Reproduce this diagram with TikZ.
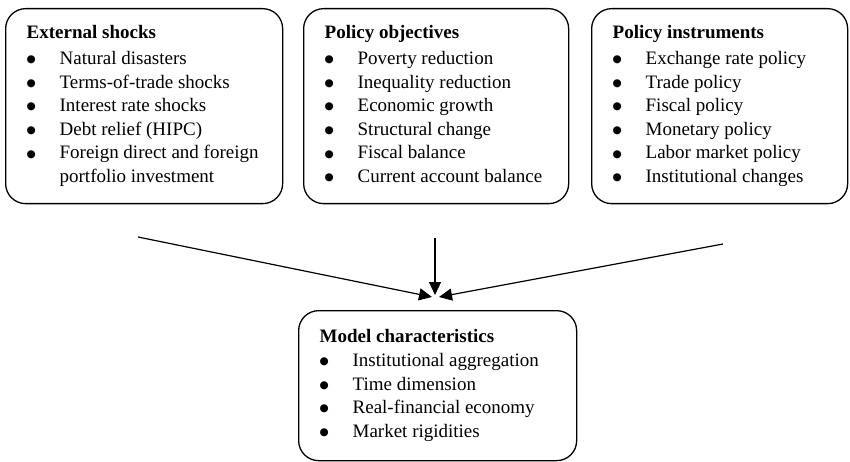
\documentclass[tikz,border=0pt]{standalone}
\usepackage{fontspec}
\setmainfont{Liberation Serif}
\newfontfamily\symf{DejaVu Sans}
\usetikzlibrary{arrows.meta}
\newcommand{\bul}{\raisebox{1.8pt}{\fontsize{10.5}{10.5}\symf ●}}
\newcommand{\itm}[1]{\makebox[33pt][l]{\bul}#1}
\newcommand{\contline}[1]{\hspace*{33pt}#1}
\begin{document}
\begin{tikzpicture}[x=1pt,y=-1pt,
  box/.style={draw, line width=1.3pt, rounded corners=20pt, anchor=north west,
    inner xsep=21pt, inner ysep=17pt, font=\fontsize{19}{23.6}\selectfont},
  arr/.style={line width=1.2pt, -{Triangle[length=13pt,width=12pt]}}]
\useasboundingbox (0,0) rectangle (850,462);
\fill[white] (0,0) rectangle (850,462);
\node[box] (ext) at (5,8) {\parbox[t][161pt][t]{235pt}{\textbf{External shocks}\\[2pt]
\itm{Natural disasters}\\
\itm{Terms-of-trade shocks}\\
\itm{Interest rate shocks}\\
\itm{Debt relief (HIPC)}\\
\itm{Foreign direct and foreign}\\
\contline{portfolio investment}}};
\node[box] (obj) at (303,8) {\parbox[t][161pt][t]{223pt}{\textbf{Policy objectives}\\[2pt]
\itm{Poverty reduction}\\
\itm{Inequality reduction}\\
\itm{Economic growth}\\
\itm{Structural change}\\
\itm{Fiscal balance}\\
\itm{Current account balance}}};
\node[box] (ins) at (591,8) {\parbox[t][161pt][t]{214pt}{\textbf{Policy instruments}\\[2pt]
\itm{Exchange rate policy}\\
\itm{Trade policy}\\
\itm{Fiscal policy}\\
\itm{Monetary policy}\\
\itm{Labor market policy}\\
\itm{Institutional changes}}};
\node[box, inner ysep=19pt] (mod) at (298,310) {\parbox[t][112pt][t]{236pt}{\textbf{Model characteristics}\\
\itm{Institutional aggregation}\\
\itm{Time dimension}\\
\itm{Real-financial economy}\\
\itm{Market rigidities}}};
\coordinate (s1) at (138,237);
\coordinate (s2) at (435,238);
\coordinate (s3) at (723,244);
\coordinate (t1) at (432,297);
\coordinate (t2) at (435,295);
\coordinate (t3) at (439,297);
\draw[arr] (s1) -- (t1);
\draw[arr] (s2) -- (t2);
\draw[arr] (s3) -- (t3);
\end{tikzpicture}
\end{document}
